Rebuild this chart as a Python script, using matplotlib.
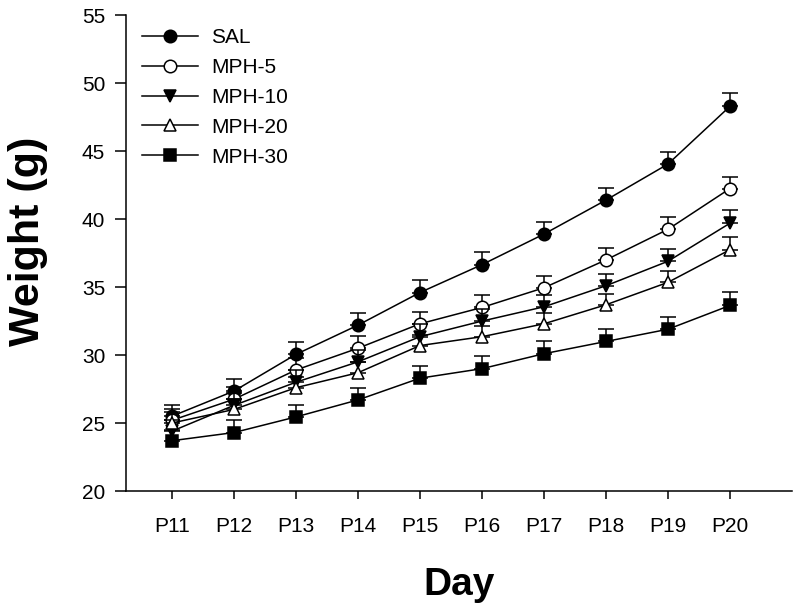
import matplotlib
matplotlib.use('Agg')
import matplotlib.pyplot as plt
import numpy as np

plt.rcParams['font.family'] = ['Liberation Sans', 'DejaVu Sans']

# Data
days = ['P11', 'P12', 'P13', 'P14', 'P15', 'P16', 'P17', 'P18', 'P19', 'P20']

sal = [25.5, 27.35, 30.05, 32.2, 34.6, 36.65, 38.9, 41.4, 44.05, 48.3]
mph5 = [25.2, 26.75, 28.9, 30.5, 32.3, 33.5, 34.95, 37.0, 39.25, 42.25]
mph10 = [24.4, 26.3, 28.0, 29.5, 31.35, 32.5, 33.55, 35.1, 36.9, 39.7]
mph20 = [25.0, 26.0, 27.6, 28.7, 30.7, 31.35, 32.3, 33.7, 35.35, 37.75]
mph30 = [23.7, 24.3, 25.45, 26.7, 28.3, 29.0, 30.1, 31.0, 31.9, 33.65]

sal_err = [0.8, 0.9, 0.9, 0.9, 0.9, 0.9, 0.9, 0.9, 0.9, 0.95]
mph5_err = [0.8, 0.9, 0.9, 0.9, 0.9, 0.9, 0.9, 0.9, 0.9, 0.85]
mph10_err = [0.8, 0.9, 0.9, 0.9, 0.9, 0.9, 0.9, 0.9, 0.9, 1.0]
mph20_err = [0.8, 0.8, 0.8, 0.8, 0.8, 0.8, 0.8, 0.8, 0.8, 0.9]
mph30_err = [0.8, 0.9, 0.9, 0.9, 0.9, 0.9, 0.9, 0.9, 0.9, 1.0]

labels = ['SAL', 'MPH-5', 'MPH-10', 'MPH-20', 'MPH-30']
series = [sal, mph5, mph10, mph20, mph30]
errors = [sal_err, mph5_err, mph10_err, mph20_err, mph30_err]
markers = ['o', 'o', 'v', '^', 's']
faces = ['black', 'white', 'black', 'white', 'black']
sizes = [9, 9, 9, 9, 8]

fig = plt.figure(figsize=(8, 6.08), dpi=100)
ax = fig.add_axes([0.1575, 0.1924, 0.8325, 0.7826])

x = np.arange(len(days))
for i, (y, e) in enumerate(zip(series, errors)):
    y = np.array(y)
    e = np.array(e)
    ax.errorbar(x, y, yerr=[np.zeros_like(e), e], color='black', lw=1.1,
                marker=markers[i], markersize=sizes[i], markerfacecolor=faces[i],
                markeredgecolor='black', markeredgewidth=1.1,
                capsize=6, capthick=1.1, elinewidth=1.1, label=labels[i],
                zorder=2 + i)

ax.set_xlim(-0.74, 10.0)
ax.set_ylim(20, 55)
ax.set_xticks(x)
ax.set_xticklabels(days)
ax.set_yticks(np.arange(20, 56, 5))

ax.spines['top'].set_visible(False)
ax.spines['right'].set_visible(False)
ax.spines['left'].set_linewidth(1.1)
ax.spines['bottom'].set_linewidth(1.1)
ax.tick_params(axis='y', direction='out', length=8, width=1.1, labelsize=15, pad=7)
ax.tick_params(axis='x', direction='out', length=6, width=1.1, labelsize=15, pad=13)

ax.set_xlabel('Day', fontsize=28, fontweight='bold', labelpad=22)
ax.set_ylabel('Weight (g)', fontsize=31, fontweight='bold')
ax.yaxis.set_label_coords(-0.117, 0.524)

handles, labs = ax.get_legend_handles_labels()
handles = [h[0] for h in handles]
ax.legend(handles, labs, loc='upper left', bbox_to_anchor=(0.012, 0.99),
          frameon=False, fontsize=15, handlelength=2.65, handletextpad=0.67,
          labelspacing=0.52, borderaxespad=0)

fig.savefig('out.png', dpi=100)
